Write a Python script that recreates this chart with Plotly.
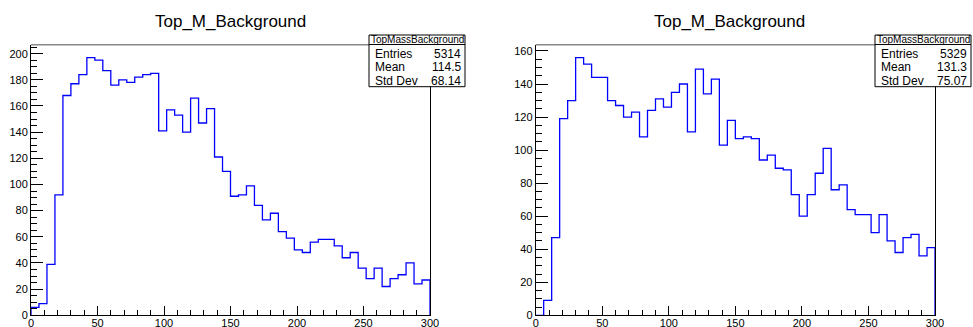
import numpy as np
import plotly.graph_objects as go

# ---- data ----
bin_width = 6
x_min, x_max = 0, 300
left_counts = [6, 9, 39, 92, 168, 177, 184, 197, 195, 187,
               176, 180, 178, 182, 184, 185, 141, 157, 153, 140,
               166, 147, 158, 121, 110, 91, 92, 99, 84, 73,
               78, 64, 59, 50, 48, 56, 58, 58, 53, 44,
               48, 36, 28, 36, 22, 28, 31, 40, 24, 27]
right_counts = [0, 9, 47, 119, 130, 156, 152, 144, 144, 130,
                127, 120, 123, 108, 124, 131, 126, 135, 140, 111,
                149, 134, 143, 103, 118, 107, 108, 107, 94, 97,
                89, 88, 73, 60, 73, 86, 101, 76, 79, 64,
                61, 61, 50, 61, 45, 38, 47, 49, 36, 41]
title_text = "Top_M_Background"
stat_name = "TopMassBackground"
left_stats = {"Entries": "5314", "Mean": "114.5", "Std Dev": "68.14"}
right_stats = {"Entries": "5329", "Mean": "131.3", "Std Dev": "75.07"}

W, H = 973, 327
FONT = "Liberation Sans, Arial, Helvetica, sans-serif"


def px(x):
    return x / W


def py(y):
    return 1 - y / H


def step_xy(counts):
    edges = np.arange(x_min, x_max + bin_width, bin_width)
    xs = [x_min] + list(edges[:-1]) + [x_max, x_max]
    ys = [0] + list(counts) + [counts[-1], 0]
    return xs, ys


fig = go.Figure()

panels = [
    dict(counts=left_counts, stats=left_stats, xd=(31, 430), box=(369, 465), xa="x", ya="y", title_x=230),
    dict(counts=right_counts, stats=right_stats, xd=(535.7, 935), box=(875, 971), xa="x2", ya="y2", title_x=729),
]

y_top, y_bot = 44.7, 315.3
shapes = []
annotations = []

for i, p in enumerate(panels):
    xs, ys = step_xy(p["counts"])
    fig.add_trace(go.Scatter(x=xs, y=ys, mode="lines", line=dict(color="#0000ff", width=1.3, shape="hv"),
                             xaxis=p["xa"], yaxis=p["ya"], showlegend=False, hoverinfo="skip"))
    ymax = max(p["counts"]) * 1.05
    axis_suffix = "" if i == 0 else "2"
    fig.update_layout(**{
        "xaxis" + axis_suffix: dict(
            domain=[px(p["xd"][0]), px(p["xd"][1])], range=[x_min, x_max], anchor="y" + axis_suffix,
            showgrid=False, zeroline=False, showline=True, linecolor="black", linewidth=1,
            ticks="inside", ticklen=9, tickcolor="black", tickwidth=1, dtick=50, tick0=0,
            minor=dict(ticks="inside", ticklen=5, dtick=10, tickcolor="black", tickwidth=1),
            tickfont=dict(family=FONT, size=11, color="black"), fixedrange=True,
            automargin=False, ticklabelstandoff=-3,
        ),
        "yaxis" + axis_suffix: dict(
            domain=[py(y_bot), py(y_top)], range=[0, ymax], anchor="x" + axis_suffix,
            showgrid=False, zeroline=False, showline=True, linecolor="black", linewidth=1, mirror=True,
            ticks="inside", ticklen=12, tickcolor="black", tickwidth=1, dtick=20, tick0=0,
            minor=dict(ticks="inside", ticklen=6, dtick=5, tickcolor="black", tickwidth=1),
            tickfont=dict(family=FONT, size=11, color="black"), fixedrange=True,
            automargin=False,
        ),
    })
    # grey top frame line
    shapes.append(dict(type="line", xref="paper", yref="paper", x0=px(p["xd"][0]), x1=px(p["xd"][1]),
                       y0=py(y_top), y1=py(y_top), line=dict(color="#888888", width=1.5), layer="above"))
    # title
    annotations.append(dict(text=title_text, xref="paper", yref="paper", x=px(p["title_x"]), y=py(21),
                            xanchor="center", yanchor="middle", showarrow=False,
                            font=dict(family=FONT, size=17, color="black")))
    # stat box
    bx0, bx1 = p["box"]
    shapes.append(dict(type="rect", xref="paper", yref="paper", x0=px(bx0), x1=px(bx1),
                       y0=py(86.7), y1=py(35), fillcolor="white", line=dict(color="black", width=1), layer="above"))
    shapes.append(dict(type="line", xref="paper", yref="paper", x0=px(bx0), x1=px(bx1),
                       y0=py(44.5), y1=py(44.5), line=dict(color="black", width=1), layer="above"))
    annotations.append(dict(text=stat_name, xref="paper", yref="paper", x=px((bx0 + bx1) / 2), y=py(40),
                            xanchor="center", yanchor="middle", showarrow=False,
                            font=dict(family=FONT, size=10, color="black")))
    for j, (k, v) in enumerate(p["stats"].items()):
        yy = py(53.7 + j * 13.5)
        annotations.append(dict(text=k, xref="paper", yref="paper", x=px(bx0 + 4), y=yy,
                                xanchor="left", yanchor="middle", showarrow=False,
                                font=dict(family=FONT, size=12, color="black")))
        annotations.append(dict(text=v, xref="paper", yref="paper", x=px(bx1 - 2), y=yy,
                                xanchor="right", yanchor="middle", showarrow=False,
                                font=dict(family=FONT, size=12, color="black")))

fig.update_layout(width=W, height=H, margin=dict(l=0, r=0, t=0, b=0, pad=0), autosize=False,
                  paper_bgcolor="white", plot_bgcolor="white",
                  shapes=shapes, annotations=annotations, showlegend=False)

fig.write_html("out.html", config={"displayModeBar": False},
               post_script="document.body.style.margin='0';document.body.style.overflow='hidden';")
